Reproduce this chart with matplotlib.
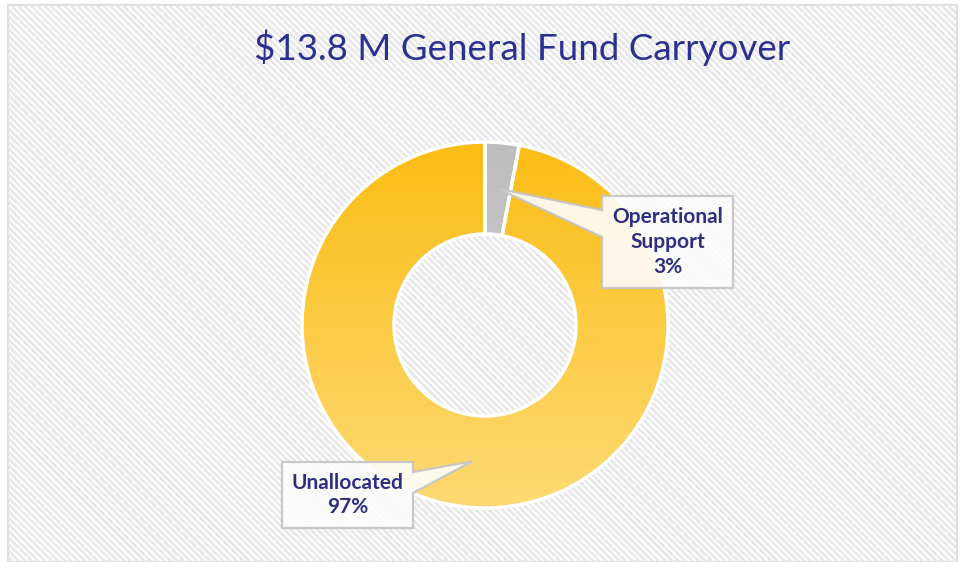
import numpy as np
import matplotlib
matplotlib.use("Agg")
from matplotlib import pyplot as plt
from matplotlib.collections import LineCollection
from matplotlib.colors import LinearSegmentedColormap
from matplotlib.patches import Rectangle, Polygon

# datos
categorias = ["Operational\nSupport", "Unallocated"]
valores = [3, 97]
titulo = "$13.8 M General Fund Carryover"

W, H = 964, 562
def Y(py):
    # coordenada en pixeles (desde arriba) -> datos
    return H - py

fig = plt.figure(figsize=(W / 100, H / 100), dpi=100)
ax = fig.add_axes([0, 0, 1, 1])

# fondo rayado (lineas diagonales claras)
fondo = Rectangle((8, 0), 949, Y(5), facecolor="white", edgecolor="#d6d6d6",
                  linewidth=1.2, zorder=0)
ax.add_patch(fondo)
paso = 6.6
segs = [[(x0, Y(0)), (x0 + H, Y(H))] for x0 in np.arange(-H, W, paso)]
rayas = LineCollection(segs, colors="#e8e8e8", linewidths=2.0, zorder=1)
ax.add_collection(rayas)
rayas.set_clip_path(fondo)

cx, cy, R, ancho = 485, 325, 183, 92
wedges, _ = ax.pie(valores, startangle=90, counterclock=False,
                   center=(cx, Y(cy)), radius=R,
                   wedgeprops=dict(width=ancho, edgecolor="white", linewidth=2.5))

# gradientes
grad = np.linspace(0, 1, 256).reshape(-1, 1)
mapas = [LinearSegmentedColormap.from_list("g", ["#bdbdbd", "#d4d4d4"]),
         LinearSegmentedColormap.from_list("a", ["#fbbd14", "#fdda74"])]
for w, cm in zip(wedges, mapas):
    w.set_facecolor("none")
    w.set_zorder(3)
    im = ax.imshow(grad, cmap=cm, extent=[cx - R, cx + R, Y(cy + R), Y(cy - R)],
                   aspect="auto", origin="upper", zorder=2)
    im.set_clip_path(w)

# etiquetas con globo
texto_color = "#2e2f82"
cajas = [(602, 196, 733, 288), (282, 462, 413, 528)]
acum = 0
for i, (cat, v) in enumerate(zip(categorias, valores)):
    ang = np.deg2rad(90 - (acum + v / 2) * 3.6)
    acum += v
    rm = R - ancho / 2
    tx, ty = cx + rm * np.cos(ang), cy - rm * np.sin(ang)
    x0, y0, x1, y1 = cajas[i]
    if i == 0:
        pts = [(x0, y0), (x1, y0), (x1, y1), (x0, y1), (x0, 237), (tx, ty), (x0, 210)]
    else:
        pts = [(x0, y0), (x1, y0), (x1, 472), (tx, ty), (x1, 493), (x1, y1), (x0, y1)]
    poly = Polygon([(px, Y(py)) for px, py in pts], closed=True,
                   facecolor="#fdfdfd", alpha=0.9, edgecolor="#c4c4c4",
                   linewidth=1.6, zorder=4)
    ax.add_patch(poly)
    ax.text((x0 + x1) / 2, Y((y0 + y1) / 2), f"{cat}\n{v}%", ha="center", va="center",
            fontsize=15, fontweight="bold", family="Lato", color=texto_color,
            linespacing=1.3, zorder=5)

ax.text(522, Y(48), titulo, ha="center", va="center", fontsize=26.5,
        family="Lato", color="#2b3191", zorder=5)

ax.set_xlim(0, W)
ax.set_ylim(0, H)
ax.set_aspect("auto")
ax.axis("off")
fig.savefig("out.png", dpi=100, facecolor="white")
